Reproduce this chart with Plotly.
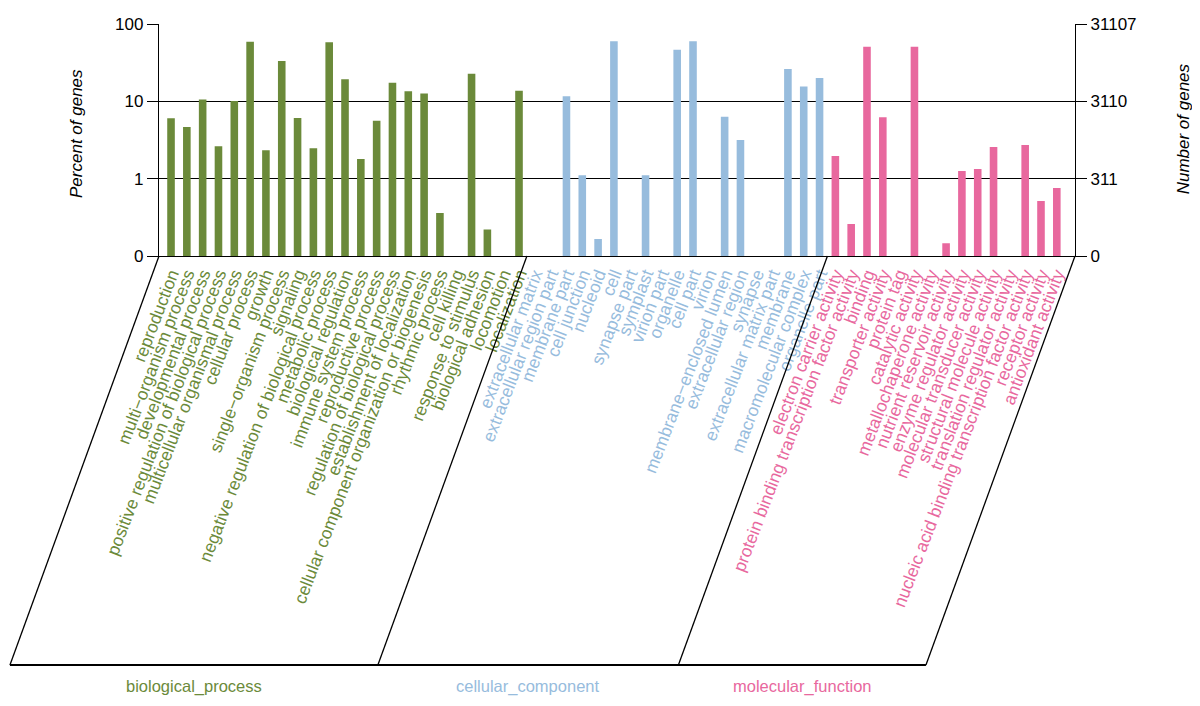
import plotly.graph_objects as go

bp_terms = ["reproduction", "multi\u2212organism process", "developmental process",
            "positive regulation of biological process", "multicellular organismal process",
            "cellular process", "growth", "single\u2212organism process", "signaling",
            "negative regulation of biological process", "metabolic process",
            "biological regulation", "immune system process", "reproductive process",
            "regulation of biological process", "establishment of localization",
            "cellular component organization or biogenesis", "rhythmic process",
            "cell killing", "response to stimulus", "biological adhesion",
            "locomotion", "localization"]
bp_values = [6.03, 4.66, 10.6, 2.62, 10.1, 59.1, 2.33, 33.2, 6.09, 2.47, 57.9, 19.3,
             1.80, 5.62, 17.4, 13.5, 12.6, 0.36, None, 22.8, 0.22, None, 13.7]

cc_terms = ["extracellular matrix", "extracellular region part", "membrane part",
            "cell junction", "nucleoid", "cell", "synapse part", "symplast",
            "virion part", "organelle", "cell part", "virion",
            "membrane\u2212enclosed lumen", "extracellular region", "synapse",
            "extracellular matrix part", "membrane", "macromolecular complex",
            "organelle part"]
cc_values = [None, None, 11.6, 1.11, 0.166, 59.7, None, 1.11, None, 46.6, 59.7, None,
             6.34, 3.16, None, None, 26.2, 15.6, 20.0]

mf_terms = ["electron carrier activity", "protein binding transcription factor activity",
            "binding", "transporter activity", "protein tag", "catalytic activity",
            "metallochaperone activity", "nutrient reservoir activity",
            "enzyme regulator activity", "molecular transducer activity",
            "structural molecule activity", "translation regulator activity",
            "nucleic acid binding transcription factor activity", "receptor activity",
            "antioxidant activity"]
mf_values = [1.96, 0.259, 50.9, 6.21, None, 50.9, None, 0.146, 1.26, 1.33, 2.57, None,
             2.72, 0.514, 0.757]

group_names = ["biological_process", "cellular_component", "molecular_function"]
group_colors = ["#6B8A3A", "#97BCDD", "#E8689E"]
group_terms = [bp_terms, cc_terms, mf_terms]
group_values = [bp_values, cc_values, mf_values]

left_ticks = [0.1, 1, 10, 100]
left_labels = ["0", "1", "10", "100"]
right_labels = ["0", "311", "3110", "31107"]

FONT = "Liberation Sans, Arial, sans-serif"
OFF = 8                      # default page body margin
W, H = 1200 - OFF, 706 - OFF
PAGE_L, PAGE_T = 159, 24     # plot area corner in page pixels
PW, PH = 915.7, 232
ML, MT = PAGE_L - OFF, PAGE_T - OFF
MR = W - ML - PW
MB = H - MT - PH
BASE = PAGE_T + PH           # baseline y in page pixels
X0, X1 = -0.76, 57.15

fig = go.Figure()
tickvals, ticktext = [], []
start = 0
bounds = [X0]
for name, col, terms, vals in zip(group_names, group_colors, group_terms, group_values):
    idx = list(range(start, start + len(terms)))
    fig.add_trace(go.Bar(x=idx, y=vals, marker_color=col, width=0.48, name=name,
                         showlegend=False, marker_line_width=0))
    tickvals += idx
    ticktext += [f"<span style='color:{col}'>{t}</span>" for t in terms]
    start += len(terms)
    bounds.append(start - 0.5)
bounds[-1] = X1

fig.add_trace(go.Scatter(x=[0], y=[1], yaxis="y2", mode="markers",
                         marker=dict(opacity=0), showlegend=False, hoverinfo="skip"))

def px_to_paper_x(px):
    return (px - PAGE_L) / PW

def py_to_paper_y(py):
    return (BASE - py) / PH

def data_to_paper_x(x):
    return (x - X0) / (X1 - X0)

slant_dx = -149 / PW
bottom_y = py_to_paper_y(665)
shapes = []
bottoms = []
for b in bounds:
    xt = data_to_paper_x(b)
    xb = xt + slant_dx
    bottoms.append(xb)
    shapes.append(dict(type="line", xref="paper", yref="paper", x0=xt, y0=0, x1=xb, y1=bottom_y,
                       line=dict(color="black", width=1.3)))
shapes.append(dict(type="line", xref="paper", yref="paper", x0=bottoms[0], y0=bottom_y,
                   x1=bottoms[-1], y1=bottom_y, line=dict(color="black", width=2.2)))

annotations = []
for i, (name, col) in enumerate(zip(group_names, group_colors)):
    annotations.append(dict(xref="paper", yref="paper", x=(bottoms[i] + bottoms[i + 1]) / 2,
                            y=py_to_paper_y(686), text=name, showarrow=False,
                            font=dict(family=FONT, size=16.5, color=col),
                            xanchor="center", yanchor="middle"))
annotations.append(dict(xref="paper", yref="paper", x=px_to_paper_x(76),
                        y=py_to_paper_y(133), text="<i>Percent of genes</i>", textangle=-90,
                        showarrow=False, font=dict(family=FONT, size=17, color="black"),
                        xanchor="center", yanchor="middle"))
annotations.append(dict(xref="paper", yref="paper", x=px_to_paper_x(1183),
                        y=py_to_paper_y(129), text="<i>Number of genes</i>", textangle=-90,
                        showarrow=False, font=dict(family=FONT, size=17, color="black"),
                        xanchor="center", yanchor="middle"))

fig.update_layout(
    width=W, height=H,
    margin=dict(l=ML, r=MR, t=MT, b=MB, autoexpand=False),
    paper_bgcolor="white", plot_bgcolor="white",
    font=dict(family=FONT, color="black"),
    xaxis=dict(range=[X0, X1], tickmode="array", tickvals=tickvals, ticktext=ticktext,
               tickangle=-69, tickfont=dict(size=17.5, family=FONT), showgrid=False,
               zeroline=False, showline=True, linecolor="black", linewidth=1.3,
               ticks="", ticklen=0),
    yaxis=dict(type="log", range=[-1, 2], tickmode="array", tickvals=left_ticks,
               ticktext=left_labels, showgrid=True, gridcolor="black", gridwidth=1.3,
               showline=True, linecolor="black", linewidth=1.3, ticks="outside",
               ticklen=11, tickwidth=1.3, tickcolor="black",
               tickfont=dict(size=17, family=FONT), zeroline=False),
    yaxis2=dict(type="log", range=[-1, 2], overlaying="y", side="right", tickmode="array",
                tickvals=left_ticks, ticktext=right_labels, showgrid=False, showline=True,
                linecolor="black", linewidth=1.3, ticks="outside", ticklen=11,
                tickwidth=1.3, tickcolor="black", tickfont=dict(size=17, family=FONT),
                zeroline=False),
    shapes=shapes,
    annotations=annotations,
)

fig.write_html("out.html")
